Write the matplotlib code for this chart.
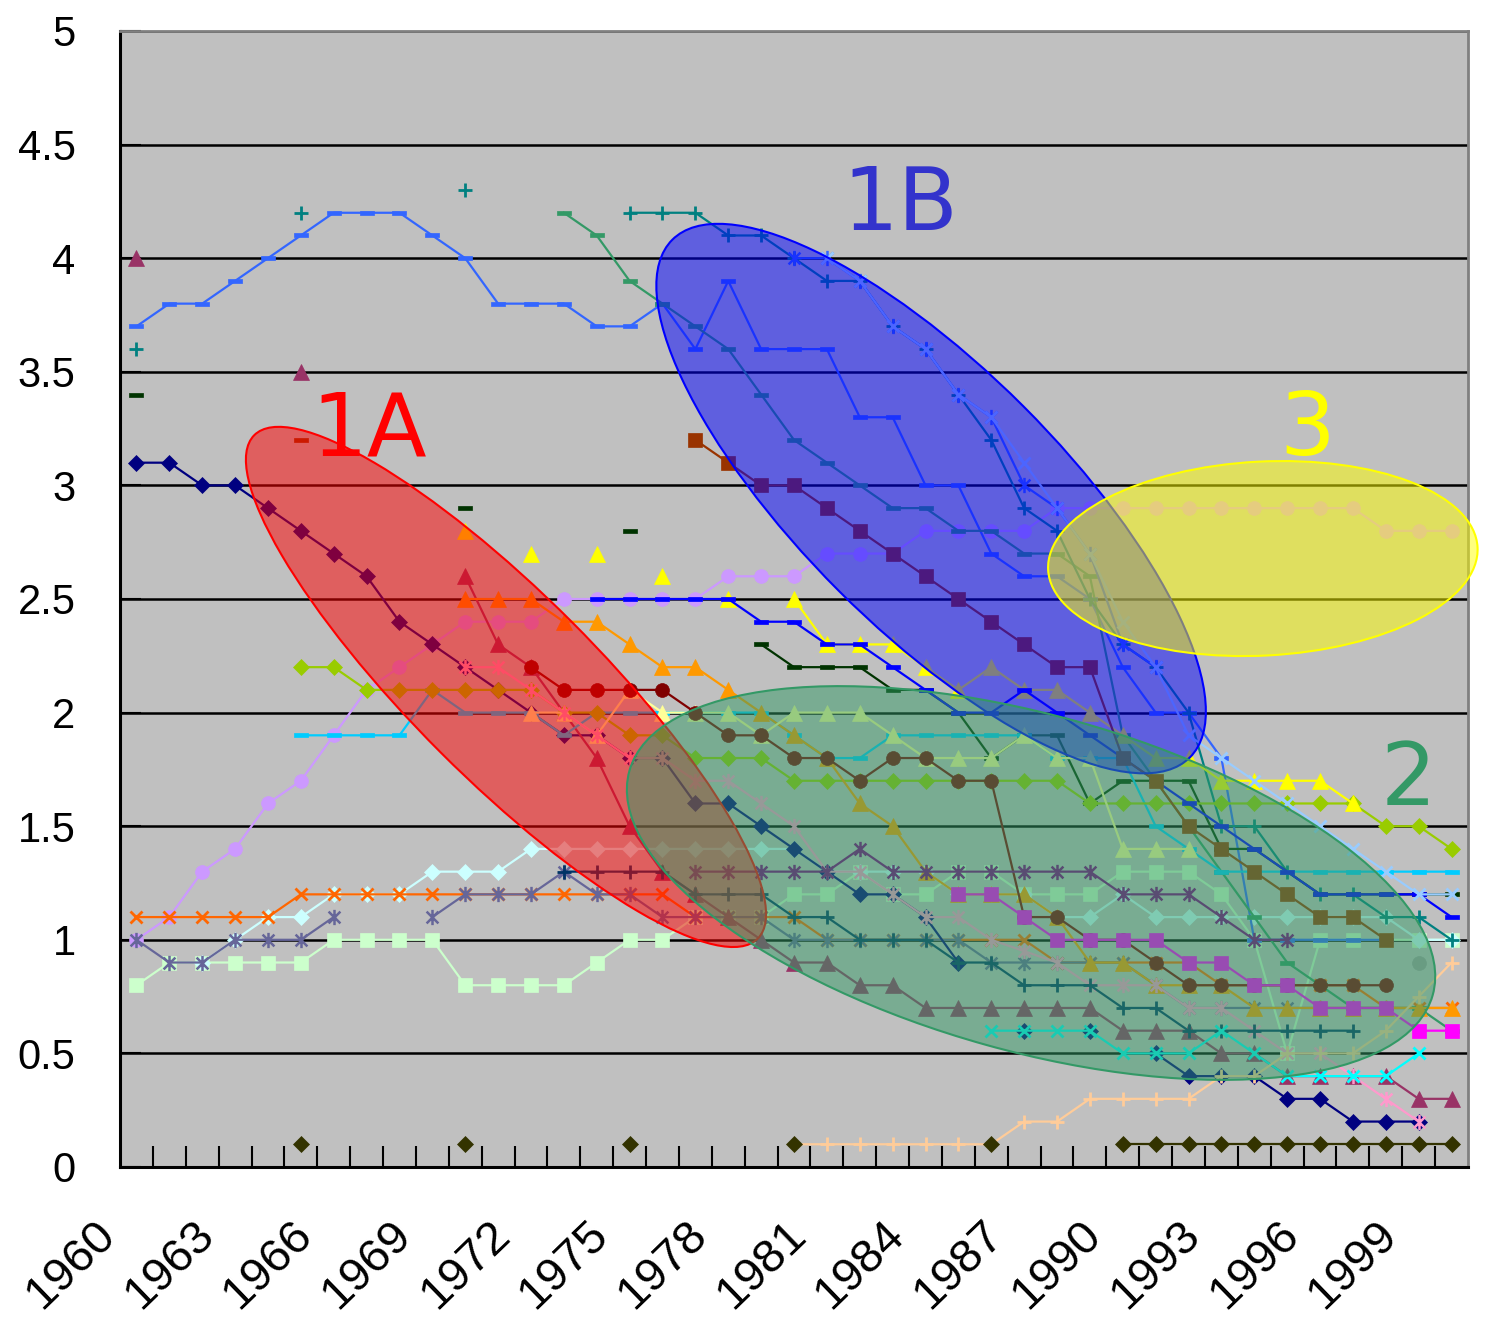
import numpy as np
import matplotlib
matplotlib.use("Agg")
import matplotlib.pyplot as plt
from matplotlib.patches import Ellipse
from matplotlib.path import Path
from matplotlib.transforms import ScaledTranslation
from matplotlib.colors import to_rgba

plt.rcParams["font.family"] = ["Liberation Sans", "DejaVu Sans"]

# ---------------------------------------------------------------- data
tick_years = [1960, 1963, 1966, 1969, 1972, 1975, 1978, 1981, 1984, 1987, 1990, 1993, 1996, 1999]
y_ticks = [0, 0.5, 1, 1.5, 2, 2.5, 3, 3.5, 4, 4.5, 5]

# each series: first year, then one value per year (None = no value)
navy_diamond_start = 1960
navy_diamond = [3.1, 3.1, 3.0, 3.0, 2.9, 2.8, 2.7, 2.6, 2.4, 2.3,
                2.2, 2.1, 2.0, 1.9, 1.9, 1.8, 1.8, 1.6, 1.6, 1.5,
                1.4, 1.3, 1.2, 1.2, 1.1, 0.9, None, 0.6, None, 0.6,
                None, 0.5, 0.4, 0.4, 0.4, 0.3, 0.3, 0.2, 0.2, 0.2]

light_blue_dash_start = 1960
light_blue_dash = [3.7, 3.8, 3.8, 3.9, 4.0, 4.1, 4.2, 4.2, 4.2, 4.1,
                   4.0, 3.8, 3.8, 3.8, 3.7, 3.7, 3.8, 3.6, 3.9, 3.6,
                   3.6, 3.6, 3.3, 3.3, 3.0, 3.0, 2.7, 2.6, 2.6, 2.5,
                   2.2, 2.0, 2.0, 1.8, 1.0, 1.0, 1.0, 1.0, 1.0]

sea_green_dash_start = 1973
sea_green_dash = [4.2, 4.1, 3.9, 3.8, 3.7, 3.6, 3.4, 3.2, 3.1, 3.0,
                  2.9, 2.9, 2.8, 2.8, 2.7, 2.7, 2.6, 1.9, 1.7, 1.5,
                  1.3, 1.1, 0.9, 0.8, 0.7, 0.7, 0.7, 0.6]

teal_plus_start = 1960
teal_plus = [3.6, None, None, None, None, 4.2, None, None, None, None,
             4.3, None, None, None, None, 4.2, 4.2, 4.2, 4.1, 4.1,
             4.0, 3.9, 3.9, 3.7, 3.6, 3.4, 3.2, 2.9, 2.8, 2.5,
             2.3, 2.2, 2.0, 1.5, 1.5, 1.3, 1.2, 1.2, 1.1, 1.1, 1.0]

dark_green_dash_start = 1960
dark_green_dash = [3.4, None, None, None, None, None, None, None, None, None,
                   2.9, None, None, None, None, 2.8, None, None, None, 2.3,
                   2.2, 2.2, 2.2, 2.1, 2.1, 2.0, 1.8, 1.9, 1.9, 1.6,
                   1.7, 1.7, 1.7, 1.4, 1.4, 1.3, 1.2, 1.2, 1.2, 1.2, 1.2]

brown_dash_start = 1965
brown_dash = [3.2]

plum_triangle_start = 1960
plum_triangle = [4.0, None, None, None, None, 3.5, None, None, None, None,
                 2.6, 2.3, 2.2, 2.0, 1.8, 1.5, 1.3, 1.2, 1.1, 1.0,
                 0.9, 0.9, 0.8, 0.8, 0.7, 0.7, 0.7, 0.7, 0.7, 0.7,
                 0.6, 0.6, 0.6, 0.5, 0.5, 0.4, 0.4, 0.4, 0.4, 0.3, 0.3]

orange_triangle_start = 1970
orange_triangle = [2.5, 2.5, 2.5, 2.4, 2.4, 2.3, 2.2, 2.2, 2.1, 2.0,
                   1.9, 1.8, 1.6, 1.5, 1.3, 1.2, 1.2, 1.2, 1.1, 0.9,
                   0.9, 0.8, 0.8, 0.8, 0.7, 0.7, 0.7, 0.7, 0.7, 0.7, 0.7]

yellow_triangle_start = 1970
yellow_triangle = [2.8, None, 2.7, None, 2.7, None, 2.6, None, 2.5, None,
                   2.5, 2.3, 2.3, 2.3, 2.2, 2.1, 2.2, 2.1, 2.1, 2.0,
                   1.9, 1.8, 1.8, 1.7, 1.7, 1.7, 1.7, 1.6]

blue_dash_start = 1974
blue_dash = [2.5, 2.5, 2.5, 2.5, 2.5, 2.4, 2.4, 2.3, 2.3, 2.2,
             2.1, 2.0, 2.0, 2.1, 2.0, 1.9, 1.8, 1.7, 1.6, 1.5,
             1.4, 1.3, 1.2, 1.2, 1.2, 1.2, 1.1]

lavender_circle_start = 1960
lavender_circle = [1.0, 1.1, 1.3, 1.4, 1.6, 1.7, 1.9, 2.1, 2.2, 2.3,
                   2.4, 2.4, 2.4, 2.5, 2.5, 2.5, 2.5, 2.5, 2.6, 2.6,
                   2.6, 2.7, 2.7, 2.7, 2.8, 2.8, 2.8, 2.8, 2.9, 2.9,
                   2.9, 2.9, 2.9, 2.9, 2.9, 2.9, 2.9, 2.9, 2.8, 2.8, 2.8]

pink_asterisk_start = 1970
pink_asterisk = [2.2, 2.2, 2.1, 2.0, 1.9, 1.8, 1.8, 1.7, 1.7, 1.6,
                 1.5, 1.3, 1.3, 1.2, 1.1, 1.1, 1.0, 0.95, 0.9, 0.8,
                 0.8, 0.8, 0.7, 0.7, 0.6, 0.5, 0.5, 0.4, 0.3, 0.2]

orange_x_start = 1960
orange_x = [1.1, 1.1, 1.1, 1.1, 1.1, 1.2, 1.2, 1.2, 1.2, 1.2,
            1.2, 1.2, 1.2, 1.2, 1.2, 1.2, 1.2, 1.1, 1.1, 1.1,
            1.1, 1.0, 1.0, 1.0, 1.0, 1.0, 1.0, 1.0, 0.9, 0.9,
            0.9, 0.9, 0.9, 0.8, 0.8, 0.8, 0.8, 0.8, 0.7, 0.7, 0.7]

light_cyan_diamond_start = 1962
light_cyan_diamond = [0.9, 1.0, 1.1, 1.1, 1.2, 1.2, 1.2, 1.3,
                      1.3, 1.3, 1.4, 1.4, 1.4, 1.4, 1.4, 1.4, 1.4, 1.4,
                      1.4, 1.3, 1.3, 1.3, 1.3, 1.2, 1.2, 1.2, 1.1, 1.1,
                      1.2, 1.1, 1.1, 1.1, 1.1, 1.1, 1.1, 1.1, 1.1, 1.0, 1.0]

light_green_square_start = 1960
light_green_square = [0.8, 0.9, 0.9, 0.9, 0.9, 0.9, 1.0, 1.0, 1.0, 1.0,
                      0.8, 0.8, 0.8, 0.8, 0.9, 1.0, 1.0, 1.1, 1.1, 1.1,
                      1.2, 1.2, 1.3, 1.2, 1.2, 1.3, 1.3, 1.2, 1.2, 1.2,
                      1.3, 1.3, 1.3, 1.2, 1.0, 0.5, 1.0, 1.0, 1.0, 1.0, 1.0]

gray_purple_asterisk_start = 1960
gray_purple_asterisk = [1.0, 0.9, 0.9, 1.0, 1.0, 1.0, 1.1, None, None, 1.1,
                        1.2, 1.2, 1.2, 1.3, 1.2, 1.2, 1.1, 1.1, 1.1, 1.1,
                        1.0, 1.0, 1.0, 1.0, 1.0, 1.0, 0.9, 0.9, 0.9, 0.9,
                        0.9, 0.8, 0.7, 0.7, 0.7, 0.7, 0.7, 0.7, 0.7]

purple_asterisk_start = 1977
purple_asterisk = [1.3, 1.3, 1.3, 1.3, 1.3, 1.4, 1.3, 1.3, 1.3, 1.3,
                   1.3, 1.3, 1.3, 1.2, 1.2, 1.2, 1.1, 1.0, 1.0]

maroon_circle_start = 1972
maroon_circle = [2.2, 2.1, 2.1, 2.1, 2.1, 2.0, 1.9, 1.9,
                 1.8, 1.8, 1.7, 1.8, 1.8, 1.7, 1.7, 1.1, 1.1, 1.0,
                 1.0, 0.9, 0.8, 0.8, 0.8, 0.8, 0.8, 0.8, 0.8]

yellow_green_diamond_start = 1965
yellow_green_diamond = [2.2, 2.2, 2.1, 2.1, 2.1,
                        2.1, 2.1, 2.1, 2.0, 2.0, 1.9, 1.9, 1.8, 1.8, 1.8,
                        1.7, 1.7, 1.7, 1.7, 1.7, 1.7, 1.7, 1.7, 1.7, 1.6,
                        1.6, 1.6, 1.6, 1.6, 1.6, 1.6, 1.6, 1.6, 1.5, 1.5, 1.4]

cyan_dash_start = 1965
cyan_dash = [1.9, 1.9, 1.9, 1.9, 2.1,
             2.0, 2.0, 2.0, 1.9, 2.0, 2.0, 2.0, 2.0, 2.0, 2.0,
             1.9, 1.8, 1.8, 1.9, 1.9, 1.9, 1.9, 1.9, 1.8, 1.8,
             1.8, 1.5, 1.4, 1.3, 1.3, 1.3, 1.3, 1.3, 1.3, 1.3, 1.3]

dark_olive_diamond_start = 1965
dark_olive_diamond = [0.1, None, None, None, None,
                      0.1, None, None, None, None, 0.1, None, None, None, None,
                      0.1, None, None, None, None, None, 0.1, None, None, None,
                      0.1, 0.1, 0.1, 0.1, 0.1, 0.1, 0.1, 0.1, 0.1, 0.1, 0.1]

peach_plus_start = 1980
peach_plus = [0.1, 0.1, 0.1, 0.1, 0.1, 0.1, 0.1, 0.2, 0.2, 0.3,
              0.3, 0.3, 0.3, 0.4, 0.4, 0.5, 0.5, 0.5, 0.6, 0.75, 0.9]

magenta_square_start = 1985
magenta_square = [1.2, 1.2, 1.1, 1.0, 1.0, 1.0, 1.0, 0.9, 0.9, 0.8,
                  0.8, 0.7, 0.7, 0.7, 0.6, 0.6]

cyan_x_start = 1986
cyan_x = [0.6, 0.6, 0.6, 0.6, 0.5, 0.5, 0.5, 0.6, 0.5, 0.4, 0.4, 0.4, 0.4, 0.5]

navy_plus_start = 1973
navy_plus = [1.3, 1.3, 1.3, 1.3, 1.2, 1.2, 1.2, 1.1, 1.1, 1.0,
             1.0, 1.0, 0.9, 0.9, 0.8, 0.8, 0.8, 0.7, 0.7, 0.6,
             0.6, 0.6, 0.6, 0.6, 0.6]

sky_x_start = 1981
sky_x = [4.0, 3.9, 3.7, 3.6, 3.4, 3.3, 3.1, 2.9, 2.7, 2.4,
         2.2, 1.9, 1.8, 1.7, 1.6, 1.5, 1.4, 1.3, 1.2, 1.2]

blue_asterisk_start = 1980
blue_asterisk = [4.0, 4.0, 3.9, 3.7, 3.6, 3.4, 3.3, 3.0, 2.9, 2.7, 2.3, 2.2]

pale_yellow_triangle_start = 1972
pale_yellow_triangle = [2.0, 2.0, 1.9, 2.1, 2.0, 2.0, 2.0, 1.9,
                        2.0, 2.0, 2.0, 1.9, 1.8, 1.8, 1.8, 1.9, 1.8, 1.8,
                        1.4, 1.4, 1.4]

brown_square_start = 1977
brown_square = [3.2, 3.1, 3.0, 3.0, 2.9, 2.8, 2.7, 2.6, 2.5, 2.4,
                2.3, 2.2, 2.2, 1.8, 1.7, 1.5, 1.4, 1.3, 1.2, 1.1, 1.1, 1.0]

gray_circle_start = 1999
gray_circle = [0.9]

# ---------------------------------------------------------------- markers
DASH = Path([(-1, -0.3), (1, -0.3), (1, 0.3), (-1, 0.3), (-1, -0.3)],
            [Path.MOVETO, Path.LINETO, Path.LINETO, Path.LINETO, Path.CLOSEPOLY])
STAR = Path([(-0.85, -0.85), (0.85, 0.85), (-0.85, 0.85), (0.85, -0.85), (0, -1.1), (0, 1.1)],
            [Path.MOVETO, Path.LINETO, Path.MOVETO, Path.LINETO, Path.MOVETO, Path.LINETO])

MARKERS = {
    "D": dict(marker="D", ms=8.5, mew=0.5),
    "s": dict(marker="s", ms=9.5, mew=0.5),
    "o": dict(marker="o", ms=10, mew=0.5),
    "^": dict(marker="^", ms=12, mew=0.5),
    "dash": dict(marker=DASH, ms=10, mew=0.5),
    "+": dict(marker="+", ms=10, mew=2),
    "x": dict(marker="x", ms=9, mew=2),
    "*": dict(marker=STAR, ms=11, mew=1.8),
}

series = [
    (light_green_square_start, light_green_square, "#CCFFCC", "s"),
    (lavender_circle_start, lavender_circle, "#CC99FF", "o"),
    (light_cyan_diamond_start, light_cyan_diamond, "#CCFFFF", "D"),
    (orange_x_start, orange_x, "#FF6600", "x"),
    (gray_purple_asterisk_start, gray_purple_asterisk, "#666699", "*"),
    (navy_diamond_start, navy_diamond, "#000080", "D"),
    (light_blue_dash_start, light_blue_dash, "#3366FF", "dash"),
    (sea_green_dash_start, sea_green_dash, "#339966", "dash"),
    (teal_plus_start, teal_plus, "#008080", "+"),
    (dark_green_dash_start, dark_green_dash, "#003300", "dash"),
    (brown_dash_start, brown_dash, "#993300", "dash"),
    (plum_triangle_start, plum_triangle, "#993366", "^"),
    (cyan_dash_start, cyan_dash, "#00CCFF", "dash"),
    (yellow_green_diamond_start, yellow_green_diamond, "#99CC00", "D"),
    (orange_triangle_start, orange_triangle, "#FF9900", "^"),
    (pale_yellow_triangle_start, pale_yellow_triangle, "#FFFF99", "^"),
    (yellow_triangle_start, yellow_triangle, "#FFFF00", "^"),
    (blue_dash_start, blue_dash, "#0000FF", "dash"),
    (maroon_circle_start, maroon_circle, "#800000", "o"),
    (pink_asterisk_start, pink_asterisk, "#FF99CC", "*"),
    (purple_asterisk_start, purple_asterisk, "#800080", "*"),
    (navy_plus_start, navy_plus, "#003366", "+"),
    (brown_square_start, brown_square, "#993300", "s"),
    (magenta_square_start, magenta_square, "#FF00FF", "s"),
    (cyan_x_start, cyan_x, "#00FFFF", "x"),
    (peach_plus_start, peach_plus, "#FFCC99", "+"),
    (dark_olive_diamond_start, dark_olive_diamond, "#333300", "D"),
    (gray_circle_start, gray_circle, "#A0A0A0", "o"),
    (blue_asterisk_start, blue_asterisk, "#3366FF", "*"),
    (sky_x_start, sky_x, "#99CCFF", "x"),
]

# ---------------------------------------------------------------- figure
W, H = 1490, 1326
fig = plt.figure(figsize=(W / 100, H / 100), dpi=100)
ax = fig.add_axes([120 / W, (H - 1167) / H, 1348 / W, 1136 / H])
ax.set_facecolor("#C0C0C0")
ax.set_xlim(1959.5, 2000.5)
ax.set_ylim(0, 5)

for start, vals, color, kind in series:
    x = np.arange(start, start + len(vals))
    y = np.array([np.nan if v is None else v for v in vals], dtype=float)
    style = dict(MARKERS[kind])
    if kind in ("+", "x", "*"):
        style["mfc"] = "none"
    else:
        style["mfc"] = color
    ax.plot(x, y, color=color, lw=1.6, mec=color, zorder=3, **style)

# gridlines and axes
ax.set_yticks(y_ticks)
ax.set_yticklabels([f"{v:g}" for v in y_ticks])
ax.yaxis.grid(True, color="black", lw=1.8)
ax.set_axisbelow(True)
ax.tick_params(axis="y", direction="in", length=15, width=1.5, labelsize=30, pad=32)

ax.set_xticks(tick_years)
ax.set_xticklabels([str(y) for y in tick_years], rotation=44, ha="right",
                   va="top", rotation_mode="anchor")
ax.tick_params(axis="x", which="major", length=0, labelsize=34, pad=33)
ax.set_xticks(np.arange(1960.5, 2000, 1.0), minor=True)
ax.tick_params(axis="x", which="minor", direction="in", length=15, width=1.5)
for lbl in ax.get_xticklabels():
    lbl.set_transform(lbl.get_transform() + ScaledTranslation(-0.43, 0, fig.dpi_scale_trans))

for side in ("left", "bottom"):
    ax.spines[side].set_color("black")
    ax.spines[side].set_linewidth(2.2)
for side in ("top", "right"):
    ax.spines[side].set_color("#808080")
    ax.spines[side].set_linewidth(2)

# highlighted groups (sizes in pixels, centred on data coordinates)
def group_ellipse(cx, cy, w_px, h_px, angle, color, z):
    tr = fig.dpi_scale_trans + ScaledTranslation(cx, cy, ax.transData)
    e = Ellipse((0, 0), w_px / 100, h_px / 100, angle=angle, transform=tr,
                facecolor=to_rgba(color, 0.5), edgecolor=color, lw=1.5,
                zorder=z, clip_on=False)
    ax.add_patch(e)

group_ellipse(1971.24, 2.113, 712, 185, -45, "#FF0000", 5)
group_ellipse(1984.17, 2.942, 732, 261, -45, "#0000FF", 6)
group_ellipse(1994.26, 2.678, 430, 194, 3, "#FFFF00", 7)
group_ellipse(1987.21, 1.250, 834, 336, -15.6, "#339966", 8)

label_font = dict(fontsize=63, family="DejaVu Sans", ha="center", va="baseline", zorder=10)
fig.text(369 / W, 1 - 455 / H, "1A", color="#FF0000", **label_font)
fig.text(900 / W, 1 - 230 / H, "1B", color="#3333CC", **label_font)
fig.text(1307 / W, 1 - 455 / H, "3", color="#FFFF00", **label_font)
fig.text(1408 / W, 1 - 805 / H, "2", color="#339966", **label_font)

fig.savefig("out.png", dpi=100)
